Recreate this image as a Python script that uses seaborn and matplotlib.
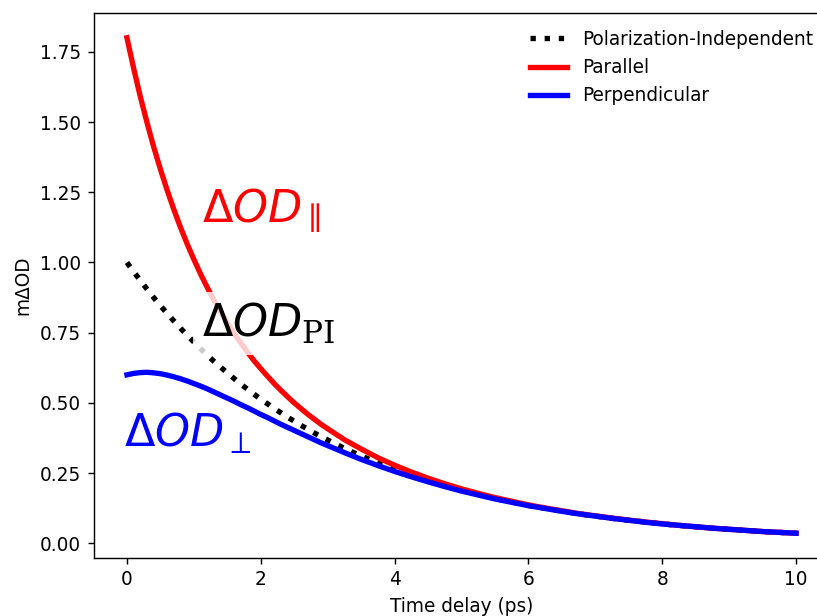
import matplotlib
matplotlib.use("Agg")
import matplotlib.pyplot as plt
import seaborn as sns
import pandas as pd

# ---- data ----
time_ps = [0.0, 0.1, 0.2, 0.3, 0.4, 0.5, 0.6, 0.7, 0.8, 0.9, 1.0, 1.1, 1.2, 1.3, 1.4, 1.5,
           1.6, 1.7, 1.8, 1.9, 2.0, 2.1, 2.2, 2.3, 2.4, 2.5, 2.6, 2.7, 2.8, 2.9, 3.0,
           3.25, 3.5, 3.75, 4.0, 4.25, 4.5, 4.75, 5.0, 5.25, 5.5, 5.75, 6.0, 6.25, 6.5, 6.75,
           7.0, 7.25, 7.5, 7.75, 8.0, 8.25, 8.5, 8.75, 9.0, 9.25, 9.5, 9.75, 10.0]
pol_indep = [1.000, 0.967, 0.936, 0.905, 0.875, 0.846, 0.819, 0.792, 0.766, 0.741, 0.717, 0.693,
             0.670, 0.648, 0.627, 0.607, 0.587, 0.567, 0.549, 0.531, 0.513, 0.497, 0.480, 0.465,
             0.449, 0.435, 0.420, 0.407, 0.393, 0.380, 0.368,
             0.338, 0.311, 0.287, 0.264, 0.243, 0.223, 0.205, 0.189, 0.174, 0.160, 0.147, 0.135,
             0.125, 0.115, 0.105, 0.097, 0.089, 0.082, 0.076, 0.069, 0.064, 0.059, 0.054, 0.050,
             0.046, 0.042, 0.039, 0.036]
parallel = [1.800, 1.691, 1.590, 1.498, 1.411, 1.332, 1.258, 1.189, 1.125, 1.066, 1.011, 0.959,
            0.911, 0.866, 0.824, 0.785, 0.748, 0.714, 0.681, 0.650, 0.622, 0.595, 0.569, 0.545,
            0.522, 0.500, 0.480, 0.460, 0.442, 0.424, 0.408,
            0.369, 0.336, 0.305, 0.278, 0.254, 0.232, 0.212, 0.194, 0.178, 0.163, 0.150, 0.137,
            0.126, 0.116, 0.106, 0.098, 0.090, 0.083, 0.076, 0.070, 0.064, 0.059, 0.054, 0.050,
            0.046, 0.042, 0.039, 0.036]
perpendicular = [0.600, 0.605, 0.608, 0.609, 0.607, 0.604, 0.599, 0.593, 0.586, 0.578, 0.569, 0.560,
                 0.550, 0.539, 0.528, 0.517, 0.506, 0.494, 0.483, 0.471, 0.459, 0.448, 0.436, 0.424,
                 0.413, 0.402, 0.391, 0.380, 0.369, 0.358, 0.348,
                 0.323, 0.299, 0.277, 0.256, 0.237, 0.219, 0.202, 0.186, 0.172, 0.158, 0.146, 0.134,
                 0.124, 0.114, 0.105, 0.097, 0.089, 0.082, 0.075, 0.069, 0.064, 0.059, 0.054, 0.050,
                 0.046, 0.042, 0.039, 0.036]

series_names = ["Polarization-Independent", "Parallel", "Perpendicular"]
series_values = [pol_indep, parallel, perpendicular]
series_colors = ["black", "red", "blue"]
series_styles = [":", "-", "-"]

plt.rcParams.update({
    "mathtext.fontset": "custom",
    "mathtext.rm": "DejaVu Serif",
    "mathtext.it": "DejaVu Sans:italic",
    "mathtext.sf": "DejaVu Sans",
    "font.size": 10.45,
})

fig = plt.figure(figsize=(817 / 128, 616 / 128), dpi=128)
ax = fig.add_axes([93.5 / 817, 58 / 616, 736 / 817, 545 / 616])

for name, vals, col, ls in zip(series_names, series_values, series_colors, series_styles):
    df = pd.DataFrame({"t": time_ps, "v": vals})
    sns.lineplot(data=df, x="t", y="v", ax=ax, color=col, linestyle=ls, linewidth=3, label=name)

box = dict(facecolor="white", alpha=0.8, edgecolor="none", pad=5)
ax.text(1.12, 1.14, r"$\mathsf{\Delta}OD_{\parallel}$", color="red", fontsize=25)
ax.text(1.12, 0.735, r"$\mathsf{\Delta}OD_{\mathrm{PI}}$", color="black", fontsize=25, bbox=box)
ax.text(-0.04, 0.343, r"$\mathsf{\Delta}OD_{\perp}$", color="blue", fontsize=25)

ax.set_xlabel("Time delay (ps)")
ax.set_ylabel("m\u0394OD")
ax.legend(loc="upper right", frameon=False)

fig.savefig("out.png", dpi=128)
